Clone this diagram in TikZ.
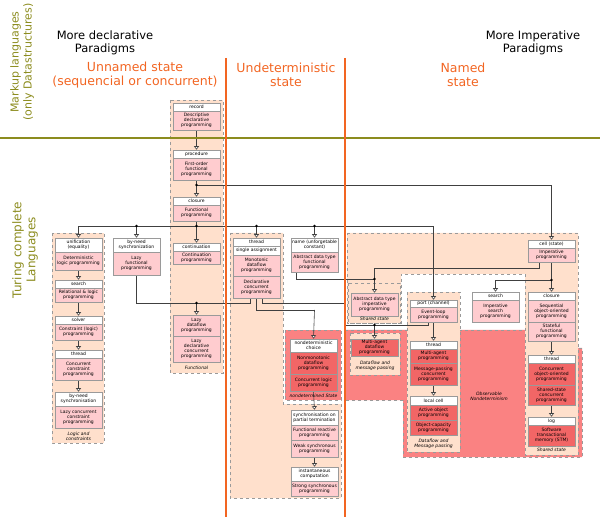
\documentclass[tikz,border=0pt]{standalone}
\usepackage{fontspec}
\setmainfont{DejaVu Sans}
\usetikzlibrary{arrows.meta}
\definecolor{peach}{HTML}{FFE0CC}
\definecolor{pinkb}{HTML}{FFCCCF}
\definecolor{redb}{HTML}{F26666}
\definecolor{redreg}{HTML}{FA8282}
\definecolor{olive}{HTML}{8C8C1E}
\definecolor{orng}{HTML}{F26522}
\definecolor{gr}{HTML}{9A9A9A}
\pgfdeclarelayer{bg}\pgfdeclarelayer{ln}\pgfsetlayers{bg,ln,main}
\newcommand\bx[6]{\node[bx,fill=#5,minimum height={(#4-#3)*1pt}] (#1) at ({#2+23.5},{(#3+#4)/2}) {#6};}
\tikzset{
 bx/.style={draw=gr,line width=0.6pt,minimum width=47pt,text width=45.5pt,align=center,inner sep=0.3pt,font=\fontsize{4.5}{5}\selectfont},
 grp/.style={fill=peach,draw=gr,dashed,line width=0.6pt},
 rgrp/.style={fill=redreg,draw=gr,dashed,line width=0.6pt},
 ln/.style={draw=black!75,line width=0.6pt},
 arr/.style={ln,-{Triangle[fill=white,width=5pt,length=3.5pt]}},
 gcap/.style={font=\itshape\fontsize{4.5}{5.2}\selectfont,align=center},
 hd/.style={font=\fontsize{11.5}{13.5}\selectfont,align=center},
 oh/.style={font=\fontsize{12.5}{14.5}\selectfont,align=center,text=orng},
 dot/.style={circle,fill=black,inner sep=0pt,minimum size=2.6pt}
}
\begin{document}
\begin{tikzpicture}[x=1pt,y=-1pt]
\useasboundingbox (0,0) rectangle (600,521);
% headers
\node[rotate=90,text=olive,font=\fontsize{11}{13}\selectfont,align=center] (mk) at (22,62) {Markup languages\\(only Datastructures)};
\node[rotate=90,text=olive,font=\fontsize{12}{14}\selectfont,align=center] (tc) at (25,250) {Turing complete\\Languages};
\node[hd] (md) at (105,43) {More declarative\\Paradigms};
\node[hd] (mi) at (533,43) {More Imperative\\Paradigms};
\node[oh] (h1) at (135,75) {Unnamed state\\(sequencial or concurrent)};
\node[oh] (h2) at (286,75) {Undeterministic\\state};
\node[oh] (h3) at (463,75) {Named\\state};
\draw[olive,line width=1.2pt] (0,138) -- (600,138);
\draw[orng,line width=1.1pt] (226,58) -- (226,517);
\draw[orng,line width=1.1pt] (345,58) -- (345,517);
% regions
\begin{pgfonlayer}{bg}
\draw[rgrp] (345,330)--(525,330)--(525,348)--(582,348)--(582,457)--(403,457)--(403,400)--(345,400)--cycle;
\draw[grp] (347,233)--(578,233)--(578,455)--(525,455)--(525,274)--(401,274)--(401,323)--(347,323)--cycle;
\draw[grp] (230,233)--(283,233)--(283,404)--(341,404)--(341,498)--(230,498)--cycle;
\draw[grp] (170,100) rectangle (223,373);
\draw[grp] (52,233) rectangle (104,443);
\draw[grp] (348,283) rectangle (400,323);
\draw[grp] (350,333) rectangle (400,375);
\draw[grp] (407,292) rectangle (460,452);
\draw[rgrp] (285,330) rectangle (341,400);
\end{pgfonlayer}
% column functional
\bx{rec}{173}{103}{111}{white}{record}
\bx{recp}{173}{111}{130}{pinkb}{Descriptive\\declarative\\programming}
\bx{proc}{173}{150}{158}{white}{procedure}
\bx{procp}{173}{158}{180}{pinkb}{First-order\\functional\\programming}
\bx{clo}{173}{197}{205}{white}{closure}
\bx{clop}{173}{205}{221}{pinkb}{Functional\\programming}
\bx{cont}{173}{243}{251}{white}{continuation}
\bx{contp}{173}{251}{264}{pinkb}{Continuation\\programming}
\bx{lz1}{173}{315}{336}{pinkb}{Lazy\\dataflow\\programming}
\bx{lz2}{173}{336}{362}{pinkb}{Lazy\\declarative\\concurrent\\programming}
\node[gcap] (cf) at (196.5,368) {Functional};
% logic
\bx{unif}{55}{238}{252}{white}{unification\\(equality)}
\bx{unifp}{55}{252}{270}{pinkb}{Deterministic\\logic programming}
\bx{srch}{55}{280}{288}{white}{search}
\bx{srchp}{55}{288}{302}{pinkb}{Relational \& logic\\programming}
\bx{solv}{55}{316}{324}{white}{solver}
\bx{solvp}{55}{324}{340}{pinkb}{Constraint (logic)\\programming}
\bx{thra}{55}{350}{358}{white}{thread}
\bx{thrap}{55}{358}{380}{pinkb}{Concurrent\\constraint\\programming}
\bx{bns}{55}{392}{406}{white}{by-need\\synchronisation}
\bx{bnsp}{55}{406}{428}{pinkb}{Lazy concurrent\\constraint\\programming}
\node[gcap] (cl) at (78.5,436) {Logic and\\constraints};
% by-need
\bx{bn}{113}{238}{252}{white}{by-need\\synchronization}
\bx{bnp}{113}{252}{275}{pinkb}{Lazy\\functional\\programming}
% thread
\bx{thrb}{233}{238}{246}{white}{thread}
\bx{sa}{233}{246}{255}{white}{single assignment}
\bx{mono}{233}{255}{276}{pinkb}{Monotonic\\dataflow\\programming}
\bx{decl}{233}{276}{298}{pinkb}{Declarative\\concurrent\\programming}
\bx{nm}{291}{238}{252}{white}{name (unforgetable\\constant)}
\bx{nmp}{291}{252}{272}{pinkb}{Abstract data type\\functional\\programming}
\bx{nd}{290}{339}{352}{white}{nondeterministic\\choice}
\bx{ndp}{290}{352}{374}{redb}{Nonmonotonic\\dataflow\\programming}
\bx{clp}{290}{374}{391}{redb}{Concurrent logic\\programming}
\node[gcap] (cn) at (313.5,395.5) {nondetermined State};
\bx{sy}{291}{410}{425}{white}{synchronisation on\\partial termination}
\bx{frp}{291}{425}{440}{pinkb}{Functional reactive\\programming}
\bx{wsp}{291}{440}{457}{pinkb}{Weak synchronous\\programming}
\bx{ic}{291}{467}{481}{white}{instantaneous\\computation}
\bx{ssp}{291}{481}{496}{pinkb}{Strong synchronous\\programming}
% named
\bx{adt}{351}{293}{316}{pinkb}{Abstract data type\\imperative\\programming}
\node[gcap] (cs1) at (374.5,319) {Shared state};
\bx{mad}{351}{339}{356}{redb}{Multi-agent\\dataflow\\programming}
\node[gcap] (cd1) at (375,366) {Dataflow and\\message passing};
\bx{port}{410}{300}{307}{white}{port (channel)}
\bx{evl}{410}{307}{322}{pinkb}{Event-loop\\programming}
\bx{thrc}{410}{341}{349}{white}{thread}
\bx{map}{410}{349}{363}{redb}{Multi-agent\\programming}
\bx{mpp}{410}{363}{385}{redb}{Message-passing\\concurrent\\programming}
\bx{lc}{410}{396}{405}{white}{local cell}
\bx{aop}{410}{405}{420}{redb}{Active object\\programming}
\bx{ocp}{410}{420}{435}{redb}{Object-capacity\\programming}
\node[gcap] (cd2) at (433.5,443.5) {Dataflow and\\Message passing};
\bx{is}{472}{292}{300}{white}{search}
\bx{isp}{472}{300}{322}{pinkb}{Imperative\\search\\programming}
\node[gcap] (on) at (489,396) {Observable\\Nondeterminism};
\bx{cell}{528}{240}{248}{white}{cell (state)}
\bx{cellp}{528}{248}{262}{pinkb}{Imperative\\programming}
\bx{clb}{528}{292}{300}{white}{closure}
\bx{soo}{528}{300}{322}{pinkb}{Sequential\\object-oriented\\programming}
\bx{sfp}{528}{322}{341}{pinkb}{Stateful\\functional\\programming}
\bx{thrd}{528}{355}{363}{white}{thread}
\bx{coo}{528}{363}{385}{redb}{Concurrent\\object-oriented\\programming}
\bx{ssc}{528}{385}{405}{redb}{Shared-state\\concurrent\\programming}
\bx{lg}{528}{417}{425}{white}{log}
\bx{stm}{528}{425}{446}{redb}{Software\\transactional\\memory (STM)}
\node[gcap] (cs2) at (551.5,450) {Shared state};
% connectors
\coordinate (d1) at (196.5,185);
\coordinate (d2) at (196.5,226);
\coordinate (d3) at (196.5,303);
\coordinate (d5) at (374.5,279);
\coordinate (c2) at (345,325);
\coordinate (d6) at (551.5,280);
\coordinate (c1) at (314.5,310);
\begin{pgfonlayer}{ln}
\draw[arr] (recp.south) -- (proc.north);
\draw[ln] (procp.south) -- (d1);
\draw[arr] (d1) -- (clo.north);
\draw[arr] (d1) -| (cell.north);
\draw[ln] (clop.south) -- (d2);
\draw[arr] (d2) -- (cont.north);
\draw[arr] (d2) -| (unif.north);
\draw[arr] (d2) -| (port.north);
\draw[arr] (bn.north |- d2) -- (bn.north);
\draw[arr] (thrb.north |- d2) -- (thrb.north);
\draw[arr] (nm.north |- d2) -- (nm.north);
\draw[arr] (unifp.south) -- (srch.north);
\draw[arr] (srchp.south) -- (solv.north);
\draw[arr] (solvp.south) -- (thra.north);
\draw[arr] (thrap.south) -- (bns.north);
\draw[ln] (bnp.south) |- (d3);
\draw[ln] ([xshift=-6pt]decl.south) |- (d3);
\draw[arr] (d3) -- (lz1.north);
\draw[ln] (decl.south) |- (c1);
\draw[arr] (c1) -- (nd.north);
\draw[ln] ([xshift=6pt]decl.south) -- ++(0,5) -| (c2) -| ([xshift=-5pt]evl.south);
\draw[arr] (mad.north |- c2) -- (mad.north);
\draw[ln] ([xshift=-18pt]nmp.south) |- (d5);
\draw[ln] ([xshift=-12pt]cellp.south) -- ++(0,6) -| (d5);
\draw[arr] (d5) -- (adt.north);
\draw[ln] (cellp.south) -- (d6);
\draw[arr] (d6) -- (clb.north);
\draw[arr] (d6) -| (is.north);
\draw[arr] (evl.south) -- (thrc.north);
\draw[arr] (mpp.south) -- (lc.north);
\draw[arr] (sfp.south) -- (thrd.north);
\draw[arr] (ssc.south) -- (lg.north);
\draw[arr] (clp.south) -- (sy.north);
\draw[arr] (wsp.south) -- (ic.north);
\end{pgfonlayer}
\foreach \p in {d1,d2,d3,d5,d6} \node[dot] at (\p) {};
\node[dot] at (bn.north |- d2) {};
\node[dot] at (thrb.north |- d2) {};
\node[dot] at (nm.north |- d2) {};
\node[dot] at (mad.north |- c2) {};
\end{tikzpicture}
\end{document}
